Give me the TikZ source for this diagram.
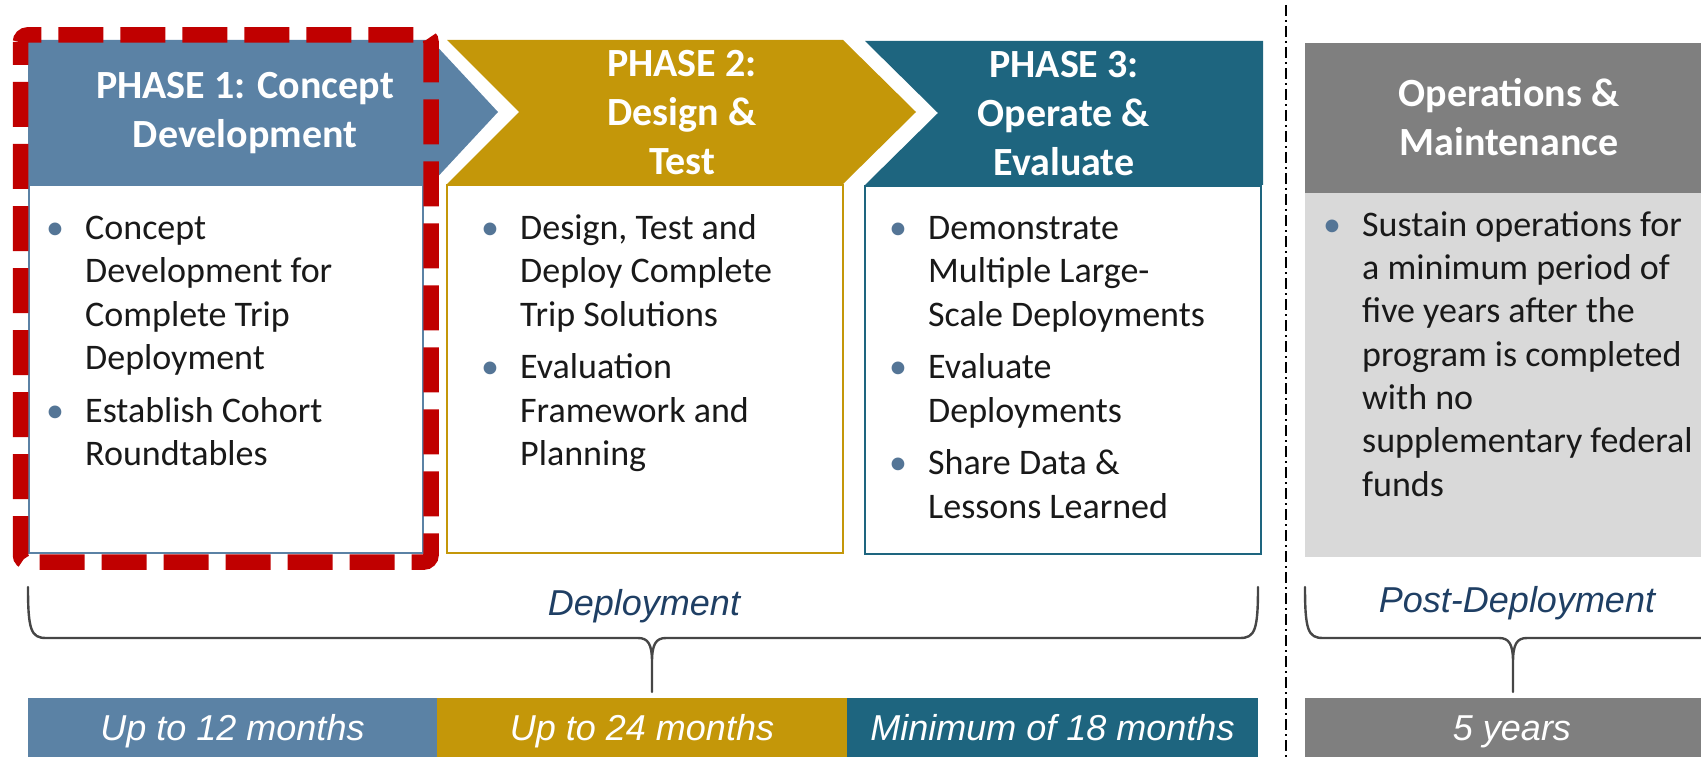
\documentclass[tikz,border=0pt]{standalone}
\usepackage{fontspec}
\setmainfont{Carlito}
\newfontfamily\arialf{Liberation Sans}
\definecolor{pone}{RGB}{91,130,165}
\definecolor{ptwo}{RGB}{196,151,9}
\definecolor{pthree}{RGB}{30,101,127}
\definecolor{opsdark}{RGB}{127,127,127}
\definecolor{opslight}{RGB}{217,217,217}
\definecolor{redc}{RGB}{192,0,0}
\definecolor{deptext}{RGB}{31,63,100}
\definecolor{bulcol}{RGB}{84,117,150}
\definecolor{bracecol}{RGB}{70,70,70}
\definecolor{txt}{RGB}{25,25,25}
\newcommand\bul{\leavevmode\llap{\makebox[0pt][c]{\textcolor{bulcol}{•}}\hspace{30pt}}}
\tikzset{
  hdrtext/.style={anchor=base, inner sep=0, text=white, font=\fontsize{40}{49}\selectfont\bfseries},
  bodytext/.style={anchor=base west, inner sep=0, text=txt, font=\fontsize{36}{43.6}\selectfont},
  bartext/.style={inner sep=0, outer sep=0, minimum height=59, text height=26, text depth=0, text=white, font=\arialf\itshape\fontsize{36}{40}\selectfont},
  spantext/.style={anchor=base, inner sep=0, text=deptext, font=\arialf\itshape\fontsize{36}{40}\selectfont},
  bracestyle/.style={draw=bracecol, line width=2.4, line cap=round},
  boxline/.style={line width=2, fill=white},
}
\begin{document}
\begin{tikzpicture}[x=1pt,y=-1pt]
\useasboundingbox (0,0) rectangle (1701,757);
\clip (0,0) rectangle (1701,757);
% headers
\fill[pone] (28,40) -- (431,40) -- (498,112) -- (431,184) -- (28,184) -- cycle;
\fill[ptwo] (447,40) -- (843,40) -- (916,112) -- (843,184) -- (447,184) -- (519,112) -- cycle;
\fill[pthree] (865,41) -- (1263,41) -- (1263,185) -- (865,185) -- (938,113) -- cycle;
\fill[opsdark] (1305,43) rectangle (1720,193);
% bodies
\draw[boxline, draw=pone] (29,185) rectangle (423,553);
\draw[boxline, draw=ptwo] (447,185) rectangle (843,553);
\draw[boxline, draw=pthree] (865,186) rectangle (1261,554);
\fill[opslight] (1305,193) rectangle (1720,557);
% red dashed frame
\draw[redc, line width=15.5, dash pattern=on 45 off 17, dash phase=22, rounded corners=7] (20.5,35) rectangle (431,562);
% header texts
\node[hdrtext] (h1) at (245,99) {\parbox[t]{400pt}{\centering PHASE 1: Concept\\Development}};
\node[hdrtext] (h2) at (682,77) {\parbox[t]{400pt}{\centering PHASE 2:\\Design \&\\Test}};
\node[hdrtext] (h3) at (1064,78) {\parbox[t]{400pt}{\centering PHASE 3:\\Operate \&\\Evaluate}};
\node[hdrtext] (h4) at (1509,107) {\parbox[t]{400pt}{\centering Operations \&\\Maintenance}};
% body texts
\node[bodytext] (b1) at (85,239) {\parbox[t]{420pt}{\baselineskip=43.6pt
\bul Concept\\Development for\\Complete Trip\\Deployment\par\vspace{9pt}
\bul Establish Cohort\\Roundtables}};
\node[bodytext] (b2) at (520,239) {\parbox[t]{420pt}{\baselineskip=43.6pt
\bul Design, Test and\\Deploy Complete\\Trip Solutions\par\vspace{9pt}
\bul Evaluation\\Framework and\\Planning}};
\node[bodytext] (b3) at (928,239) {\parbox[t]{420pt}{\baselineskip=43.6pt
\bul Demonstrate\\Multiple Large-\\Scale Deployments\par\vspace{9pt}
\bul Evaluate\\Deployments\par\vspace{9pt}
\bul Share Data \&\\Lessons Learned}};
\node[bodytext] (b4) at (1362,236) {\parbox[t]{420pt}{\baselineskip=43.4pt
\bul Sustain operations for\\a minimum period of\\five years after the\\program is completed\\with no\\supplementary federal\\funds}};
% divider
\draw[black, line width=1.6, dash pattern=on 11 off 4 on 2 off 4] (1286,5) -- (1286,757);
% span labels
\node[spantext] (dep) at (644,615) {Deployment};
\node[spantext] (post) at (1517,612) {Post-Deployment};
% braces
\draw[bracestyle] (28,587) .. controls (28,630) and (31,638) .. (46,638) -- (638,638)
  .. controls (648,638) and (652,644) .. (652,662) -- (652,692)
  (652,662) .. controls (652,644) and (656,638) .. (666,638) -- (1240,638)
  .. controls (1255,638) and (1258,630) .. (1258,587);
\draw[bracestyle] (1305,587) .. controls (1305,630) and (1308,638) .. (1323,638) -- (1499,638)
  .. controls (1509,638) and (1513,644) .. (1513,662) -- (1513,692)
  (1513,662) .. controls (1513,644) and (1517,638) .. (1527,638) -- (1703,638)
  .. controls (1718,638) and (1721,630) .. (1721,587);
% bars
\node[bartext, fill=pone, minimum width=409] (d1) at (232.5,727.5) {Up to 12 months};
\node[bartext, fill=ptwo, minimum width=410] (d2) at (642,727.5) {Up to 24 months};
\node[bartext, fill=pthree, minimum width=411] (d3) at (1052.5,727.5) {Minimum of 18 months};
\node[bartext, fill=opsdark, minimum width=414] (d4) at (1512,727.5) {5 years};
\end{tikzpicture}
\end{document}
